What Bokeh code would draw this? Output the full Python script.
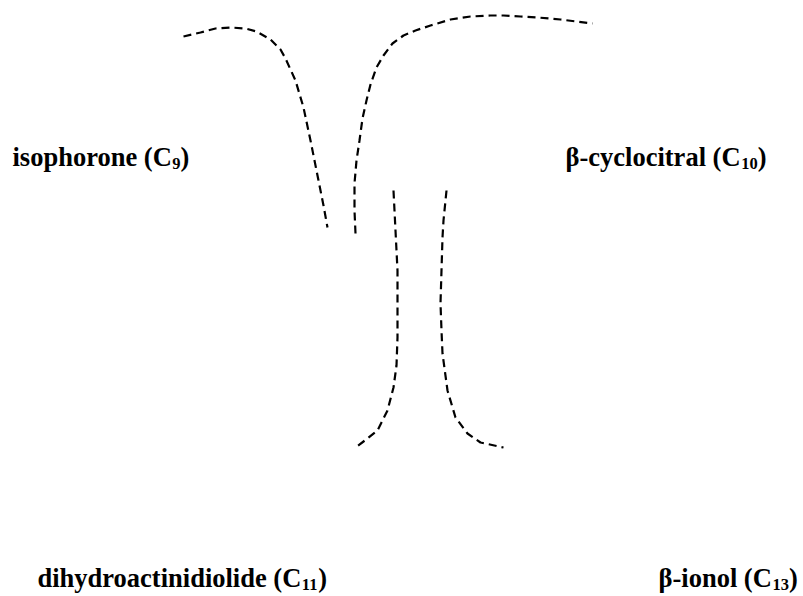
from bokeh.plotting import figure
from bokeh.models import Range1d, ColumnDataSource
from bokeh.core.properties import value
from bokeh.embed import file_html
from bokeh.resources import INLINE

# Curve data (horizontal position, vertical position; vertical axis points down)
iso_x = [183, 200, 215, 230, 245, 256, 270, 280, 285, 295, 303, 310, 318, 323, 327]
iso_y = [36, 32, 28, 27, 28, 31, 39, 49, 58, 80, 107, 140, 180, 205, 227]

cyc_x = [355, 354, 354, 356, 359, 362, 366, 370, 376, 383, 392, 403, 415, 430, 450, 470, 490, 503, 520, 537, 560, 592]
cyc_y = [233, 210, 183, 160, 140, 118, 100, 84, 67, 55, 43, 35, 30, 25, 19, 16, 15, 15, 16, 17, 19, 23]

dha_x = [393, 395, 397, 397, 396, 393, 387, 377, 367, 355]
dha_y = [190, 230, 270, 337, 365, 387, 410, 430, 438, 447]

ion_x = [446, 443, 442, 440, 441, 442, 447, 455, 467, 480, 503]
ion_y = [190, 220, 237, 303, 330, 353, 390, 417, 433, 442, 447]

label_main = ["isophorone (C", "\u03b2-cyclocitral (C", "dihydroactinidiolide (C", "\u03b2-ionol (C"]
label_sub = ["9", "10", "11", "13"]
label_x = [12, 565, 37, 658]
label_y = [156, 156, 577, 577]

# Times/Liberation Serif Bold advance widths (per 1000 em) for layout of subscripts
W = {" ": 250, "(": 333, ")": 333, "-": 333, "C": 722, "a": 500, "c": 444, "d": 556,
     "e": 444, "h": 556, "i": 278, "l": 278, "n": 556, "o": 500, "p": 556, "r": 444,
     "s": 389, "t": 333, "y": 500, "\u03b2": 550}
MAIN = 26.5
SUB = 16.5


def tw(s, size):
    return sum(W.get(ch, 500) for ch in s) * size / 1000.0


sub_x = [x + tw(m, MAIN) for x, m in zip(label_x, label_main)]
close_x = [sx + len(s) * 0.5 * SUB for sx, s in zip(sub_x, label_sub)]
sub_y = [y + 4 + 0.34 * (MAIN - SUB) for y in label_y]

p = figure(width=803, height=596, output_backend="svg", toolbar_location=None,
           x_range=Range1d(0, 803), y_range=Range1d(596, 0), min_border=0)
p.axis.visible = False
p.grid.visible = False
p.outline_line_color = None
p.background_fill_color = "white"
p.border_fill_color = "white"

for xs, ys in [(iso_x, iso_y), (cyc_x, cyc_y), (dha_x, dha_y), (ion_x, ion_y)]:
    p.line(xs, ys, line_color="black", line_width=2.2, line_dash="8 5")

font = value("Liberation Serif")
common = dict(text_font=font, text_font_style="bold", text_color="black",
              text_baseline="middle", text_align="left")
p.text(x="x", y="y", text="t", source=ColumnDataSource(dict(x=label_x, y=label_y, t=label_main)),
       text_font_size=f"{MAIN}px", **common)
p.text(x="x", y="y", text="t", source=ColumnDataSource(dict(x=sub_x, y=sub_y, t=label_sub)),
       text_font_size=f"{SUB}px", **common)
p.text(x="x", y="y", text="t", source=ColumnDataSource(dict(x=close_x, y=label_y, t=[")"] * 4)),
       text_font_size=f"{MAIN}px", **common)

open("out.html", "w").write(file_html(p, INLINE))
